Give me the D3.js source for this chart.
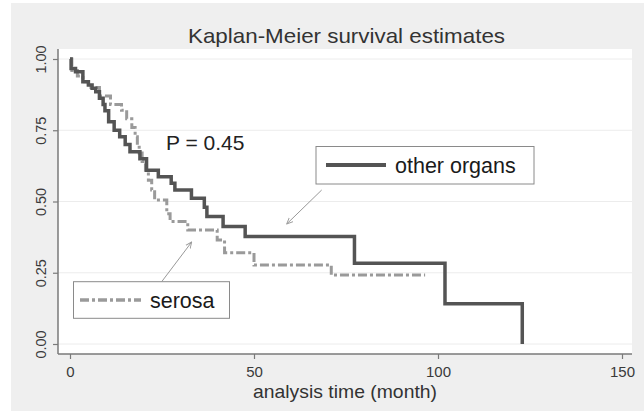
<!DOCTYPE html>
<html>
<head>
<meta charset="utf-8">
<script src="https://cdn.jsdelivr.net/npm/d3@7/dist/d3.min.js"></script>
<style>
  html, body { margin: 0; padding: 0; background: #ffffff; }
  svg { display: block; font-family: "Liberation Sans", Arial, sans-serif; }
</style>
</head>
<body>
<svg id="chart" width="644" height="411"></svg>
<script>
// Kaplan-Meier step estimates (time in months, survival proportion)
const otherTime = [0, 0.3, 1.5, 3.5, 5, 6, 7, 8, 9, 9.5, 10.5, 12, 13.5, 15, 16.3, 19, 20.8, 24, 27.5, 28.5, 33, 36.5, 37.2, 41.6, 47.6, 77.3, 101.9, 122.9];
const otherSurv = [1, 0.967, 0.955, 0.92, 0.909, 0.897, 0.885, 0.862, 0.84, 0.818, 0.78, 0.75, 0.727, 0.70, 0.675, 0.65, 0.61, 0.587, 0.564, 0.54, 0.511, 0.48, 0.447, 0.412, 0.377, 0.283, 0.1415, 0];

const serosaTime = [0, 0.5, 2, 3.5, 5, 8, 11, 14, 15.4, 16.8, 17.7, 18.3, 18.8, 19.6, 20.5, 21.3, 22.2, 23, 26.3, 27.2, 32, 40, 42, 50, 71, 96.5];
const serosaSurv = [1, 0.96, 0.94, 0.92, 0.90, 0.87, 0.84, 0.82, 0.79, 0.76, 0.727, 0.698, 0.67, 0.64, 0.61, 0.575, 0.54, 0.505, 0.457, 0.43, 0.40, 0.365, 0.32, 0.277, 0.242, 0.242];

const xTicks = [0, 50, 100, 150];
const yTicks = [0, 0.25, 0.5, 0.75, 1];

const titleText = "Kaplan-Meier survival estimates";
const xTitleText = "analysis time (month)";
const pText = "P = 0.45";
const groupNames = ["other organs", "serosa"];

const svg = d3.select("#chart");

// outer graph region
svg.append("rect").attr("x", 11).attr("y", 3).attr("width", 633).attr("height", 408).attr("fill", "#efefef");

// plot region
const plotL = 58, plotR = 632, plotT = 49, plotB = 354;
svg.append("rect").attr("x", plotL).attr("y", plotT).attr("width", plotR - plotL).attr("height", plotB - plotT).attr("fill", "#ffffff");

const x = d3.scaleLinear().domain([0, 150]).range([70, 622]);
const y = d3.scaleLinear().domain([0, 1]).range([344, 59]);

// horizontal grid lines
svg.append("g").selectAll("line").data(yTicks).join("line")
  .attr("x1", plotL).attr("x2", plotR)
  .attr("y1", d => y(d)).attr("y2", d => y(d))
  .attr("stroke", "#ececec").attr("stroke-width", 1);

// y axis
const yAxis = svg.append("g").attr("transform", `translate(${plotL},0)`)
  .call(d3.axisLeft(y).tickValues(yTicks).tickFormat(d3.format(".2f")).tickSize(5).tickSizeOuter(0));
yAxis.select(".domain").remove();
yAxis.selectAll(".tick line").attr("stroke", "#7a7a7a").attr("stroke-width", 1.2);
yAxis.selectAll(".tick text")
  .attr("transform", "rotate(-90)")
  .attr("x", 0).attr("y", -12).attr("dy", null)
  .attr("text-anchor", "middle")
  .attr("font-size", 14.5).attr("fill", "#3a3a3a")
  .attr("font-family", "Liberation Sans, Arial, sans-serif");
svg.append("line").attr("x1", plotL).attr("x2", plotL).attr("y1", plotT).attr("y2", plotB)
  .attr("stroke", "#7a7a7a").attr("stroke-width", 1.5);

// x axis
const xAxis = svg.append("g").attr("transform", `translate(0,${plotB})`)
  .call(d3.axisBottom(x).tickValues(xTicks).tickFormat(d3.format("d")).tickSize(5).tickSizeOuter(0));
xAxis.select(".domain").remove();
xAxis.selectAll(".tick line").attr("stroke", "#7a7a7a").attr("stroke-width", 1.2);
xAxis.selectAll(".tick text")
  .attr("y", 12).attr("font-size", 15).attr("fill", "#3a3a3a")
  .attr("font-family", "Liberation Sans, Arial, sans-serif");
svg.append("line").attr("x1", plotL).attr("x2", plotR).attr("y1", plotB).attr("y2", plotB)
  .attr("stroke", "#7a7a7a").attr("stroke-width", 1.5);

// survival curves
const step = d3.line().x(d => x(d[0])).y(d => y(d[1])).curve(d3.curveStepAfter);
const serosaPts = serosaTime.map((t, i) => [t, serosaSurv[i]]);
const otherPts = otherTime.map((t, i) => [t, otherSurv[i]]);

svg.append("path").datum(serosaPts).attr("d", step)
  .attr("fill", "none").attr("stroke", "#9a9a9a").attr("stroke-width", 3)
  .attr("stroke-dasharray", "9,3,3,3");
svg.append("path").datum(otherPts).attr("d", step)
  .attr("fill", "none").attr("stroke", "#545454").attr("stroke-width", 3.5)
  .attr("stroke-linejoin", "miter");

// title
svg.append("text").attr("x", 346.5).attr("y", 43).attr("text-anchor", "middle")
  .attr("font-size", 21).attr("fill", "#333")
  .attr("textLength", 317).attr("lengthAdjust", "spacingAndGlyphs")
  .text(titleText);

// x axis title
svg.append("text").attr("x", 345).attr("y", 398).attr("text-anchor", "middle")
  .attr("font-size", 19).attr("fill", "#333")
  .attr("textLength", 184).attr("lengthAdjust", "spacingAndGlyphs")
  .text(xTitleText);

// log-rank p value
svg.append("text").attr("x", 166).attr("y", 149.5)
  .attr("font-size", 21).attr("fill", "#222")
  .text(pText);

// arrow marker
svg.append("defs").append("marker")
  .attr("id", "arrowhead").attr("viewBox", "0 0 10 10")
  .attr("refX", 9).attr("refY", 5).attr("markerWidth", 7).attr("markerHeight", 7)
  .attr("markerUnits", "userSpaceOnUse").attr("orient", "auto")
  .append("path").attr("d", "M0,1 L9,5 L0,9").attr("fill", "none").attr("stroke", "#999").attr("stroke-width", 1.3);

// legend: other organs
svg.append("line").attr("x1", 321.7).attr("y1", 190).attr("x2", 286.7).attr("y2", 224)
  .attr("stroke", "#999").attr("stroke-width", 1).attr("marker-end", "url(#arrowhead)");
svg.append("rect").attr("x", 316).attr("y", 146.5).attr("width", 218).attr("height", 37.5)
  .attr("fill", "#fff").attr("stroke", "#8a8a8a").attr("stroke-width", 1);
svg.append("line").attr("x1", 326).attr("x2", 386).attr("y1", 165).attr("y2", 165)
  .attr("stroke", "#545454").attr("stroke-width", 4);
svg.append("text").attr("x", 395).attr("y", 173).attr("font-size", 21.5).attr("fill", "#1a1a1a")
  .text(groupNames[0]);

// legend: serosa
svg.append("line").attr("x1", 161.7).attr("y1", 281.7).attr("x2", 191.7).attr("y2", 242)
  .attr("stroke", "#999").attr("stroke-width", 1).attr("marker-end", "url(#arrowhead)");
svg.append("rect").attr("x", 73.5).attr("y", 281.7).attr("width", 156).attr("height", 36.6)
  .attr("fill", "#fff").attr("stroke", "#8a8a8a").attr("stroke-width", 1);
svg.append("line").attr("x1", 80).attr("x2", 141).attr("y1", 300).attr("y2", 300)
  .attr("stroke", "#9a9a9a").attr("stroke-width", 3.5).attr("stroke-dasharray", "9,3,3,3");
svg.append("text").attr("x", 150).attr("y", 308).attr("font-size", 21.5).attr("fill", "#1a1a1a")
  .text(groupNames[1]);
</script>
</body>
</html>
